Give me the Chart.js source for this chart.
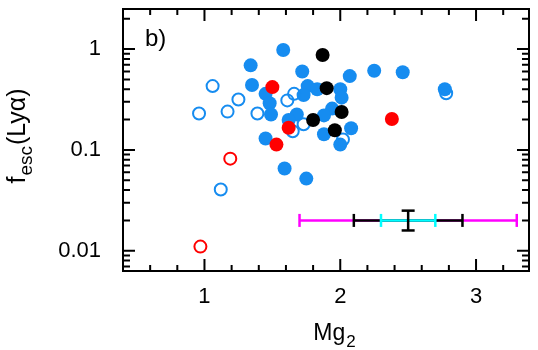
<!DOCTYPE html>
<html>
<head>
<meta charset="utf-8">
<script src="https://cdn.jsdelivr.net/npm/chart.js@4.4.1/dist/chart.umd.min.js"></script>
<style>
  html, body { margin: 0; padding: 0; background: #fff; }
  #wrap { width: 538px; height: 350px; position: relative; }
</style>
</head>
<body>
<div id="wrap"><canvas id="mgChart"></canvas></div>
<script>
// Mg2 vs f_esc(Lya)
const blueFilledX = [1.58, 1.34, 1.35, 1.72, 1.45, 1.48, 1.49, 1.76, 1.83, 2.00, 2.01, 1.73, 2.07, 2.25, 2.46, 2.77, 1.94, 1.88, 1.68, 1.62, 2.08, 1.88, 1.45, 2.00, 1.59, 1.75];
const blueFilledY = [0.98, 0.69, 0.44, 0.60, 0.36, 0.29, 0.225, 0.43, 0.40, 0.40, 0.33, 0.35, 0.54, 0.61, 0.59, 0.40, 0.257, 0.22, 0.225, 0.198, 0.164, 0.143, 0.13, 0.113, 0.0655, 0.052];
const blueOpenX = [1.06, 1.25, 0.96, 1.17, 1.39, 1.61, 1.66, 1.73, 1.65, 2.02, 2.78, 1.12];
const blueOpenY = [0.43, 0.316, 0.23, 0.24, 0.23, 0.31, 0.36, 0.18, 0.153, 0.127, 0.365, 0.0405];
const redFilledX = [1.50, 1.62, 1.53, 2.38];
const redFilledY = [0.42, 0.166, 0.113, 0.203];
const redOpenX = [1.19, 0.97];
const redOpenY = [0.082, 0.011];
const blackX = [1.87, 1.90, 1.80, 2.01, 1.96];
const blackY = [0.875, 0.41, 0.198, 0.238, 0.157];

// typical error bar
const errCenter = [2.5, 0.02];
const errX = { magenta: 0.8, black: 0.4, cyan: 0.2 };
const errY = [0.0159, 0.025];

const xTicks = [1, 2, 3];
const yTicks = [0.01, 0.1, 1];

const BLUE = '#168cf0';
const FONT = '"Liberation Sans", Arial, sans-serif';

function pts(xs, ys) {
    return xs.map((x, i) => ({ x: x, y: ys[i] }));
}

function errSpan(half) {
    return [{ x: errCenter[0] - half, y: errCenter[1] }, { x: errCenter[0] + half, y: errCenter[1] }];
}

function errLine(half, color, order) {
    return {
        type: 'line',
        data: errSpan(half),
        borderColor: color,
        borderWidth: 2.5,
        pointStyle: 'line',
        rotation: 90,
        pointRadius: 6.5,
        pointBorderColor: color,
        pointBorderWidth: 2.5,
        order: order
    };
}

// inside ticks on all four sides plus the frame
const frameTicks = {
    id: 'frameTicks',
    beforeDatasetsDraw(chart) {
        const { ctx, chartArea: a, scales } = chart;
        const xs = scales.x, ys = scales.y;
        ctx.save();
        ctx.strokeStyle = '#000';
        ctx.lineWidth = 2;
        ctx.beginPath();
        // x ticks every 0.2, major on integers
        for (let v = 0.4; v <= xs.max + 1e-6; v += 0.2) {
            const r = Math.round(v * 10) / 10;
            const px = xs.getPixelForValue(r);
            if (px < a.left + 1 || px > a.right - 1) continue;
            const len = Math.abs(r - Math.round(r)) < 1e-6 ? 12 : 6;
            ctx.moveTo(px, a.bottom); ctx.lineTo(px, a.bottom - len);
            ctx.moveTo(px, a.top); ctx.lineTo(px, a.top + len);
        }
        // y log ticks
        for (let e = -3; e <= 0; e++) {
            for (let m = 1; m <= 9; m++) {
                const v = m * Math.pow(10, e);
                if (v < ys.min || v > ys.max) continue;
                const py = ys.getPixelForValue(v);
                const len = m === 1 ? 12 : 7;
                ctx.moveTo(a.left, py); ctx.lineTo(a.left + len, py);
                ctx.moveTo(a.right, py); ctx.lineTo(a.right - len, py);
            }
        }
        ctx.stroke();
        ctx.strokeRect(a.left, a.top, a.right - a.left, a.bottom - a.top);
        ctx.restore();
    },
    afterDraw(chart) {
        const { ctx, chartArea: a } = chart;
        ctx.save();
        ctx.fillStyle = '#000';
        ctx.textBaseline = 'alphabetic';
        // panel label
        ctx.font = '24px ' + FONT;
        ctx.textAlign = 'left';
        ctx.fillText('b)', a.left + 22, 46);

        // x title: Mg with subscript 2
        ctx.font = '23px ' + FONT;
        const wMg = ctx.measureText('Mg').width;
        ctx.font = '17px ' + FONT;
        const w2 = ctx.measureText('2').width;
        let x0 = 334 - (wMg + w2) / 2;
        ctx.font = '23px ' + FONT;
        ctx.fillText('Mg', x0, 340);
        ctx.font = '17px ' + FONT;
        ctx.fillText('2', x0 + wMg + 1, 347);

        // y title: f_esc(Lyα), rotated
        ctx.translate(25, 136);
        ctx.rotate(-Math.PI / 2);
        ctx.font = '25px ' + FONT;
        const wf = ctx.measureText('f').width;
        const wL = ctx.measureText('(Ly\u03b1)').width;
        ctx.font = '19px ' + FONT;
        const wesc = ctx.measureText('esc').width;
        let s = -(wf + wesc + wL + 2) / 2;
        ctx.font = '25px ' + FONT;
        ctx.fillText('f', s, 0);
        ctx.font = '19px ' + FONT;
        ctx.fillText('esc', s + wf + 1, 7);
        ctx.font = '25px ' + FONT;
        ctx.fillText('(Ly\u03b1)', s + wf + wesc + 2, 0);
        ctx.restore();
    }
};

function noPad(s) {
    s.paddingTop = 0;
    s.paddingBottom = 0;
    s.paddingLeft = 0;
    s.paddingRight = 0;
}

const ctx = document.getElementById('mgChart');
new Chart(ctx, {
    type: 'scatter',
    data: {
        datasets: [
            { data: pts(blackX, blackY), backgroundColor: '#000', borderColor: '#000', pointRadius: 7, borderWidth: 0, order: 1 },
            { data: pts(redFilledX, redFilledY), backgroundColor: '#ff0000', borderColor: '#ff0000', pointRadius: 7, borderWidth: 0, order: 2 },
            { data: pts(redOpenX, redOpenY), backgroundColor: 'rgba(0,0,0,0)', borderColor: '#ff0000', pointRadius: 6, borderWidth: 2, order: 3 },
            { data: pts(blueOpenX, blueOpenY), backgroundColor: 'rgba(0,0,0,0)', borderColor: BLUE, pointRadius: 6, borderWidth: 2, order: 4 },
            { data: pts(blueFilledX, blueFilledY), backgroundColor: BLUE, borderColor: BLUE, pointRadius: 7, borderWidth: 0, order: 5 },
            errLine(errX.cyan, '#00ffff', 6),
            errLine(errX.black, '#000000', 7),
            errLine(errX.magenta, '#ff00ff', 8),
            {
                type: 'line',
                data: [{ x: errCenter[0], y: errY[0] }, { x: errCenter[0], y: errY[1] }],
                borderColor: '#000',
                borderWidth: 2.5,
                pointStyle: 'line',
                rotation: 0,
                pointRadius: 6.5,
                pointBorderColor: '#000',
                pointBorderWidth: 2.5,
                order: 0
            }
        ]
    },
    options: {
        responsive: true,
        maintainAspectRatio: false,
        animation: false,
        events: [],
        layout: { padding: { top: 3, right: 2, left: 0, bottom: 0 } },
        plugins: {
            legend: { display: false },
            tooltip: { enabled: false }
        },
        scales: {
            x: {
                type: 'linear',
                min: 0.4,
                max: 3.39,
                grid: { display: false, drawTicks: false },
                border: { display: false },
                afterBuildTicks: s => { s.ticks = xTicks.map(v => ({ value: v })); },
                afterFit: s => { s.height = 79; noPad(s); },
                ticks: {
                    padding: 13,
                    color: '#000',
                    font: { family: FONT, size: 22 },
                    callback: v => String(v)
                }
            },
            y: {
                type: 'logarithmic',
                min: 0.0063,
                max: 2.5,
                grid: { display: false, drawTicks: false },
                border: { display: false },
                afterBuildTicks: s => { s.ticks = yTicks.map(v => ({ value: v })); },
                afterFit: s => { s.width = 123; noPad(s); },
                ticks: {
                    padding: 22,
                    color: '#000',
                    font: { family: FONT, size: 22 },
                    callback: v => String(v)
                }
            }
        }
    },
    plugins: [frameTicks]
});
</script>
</body>
</html>
